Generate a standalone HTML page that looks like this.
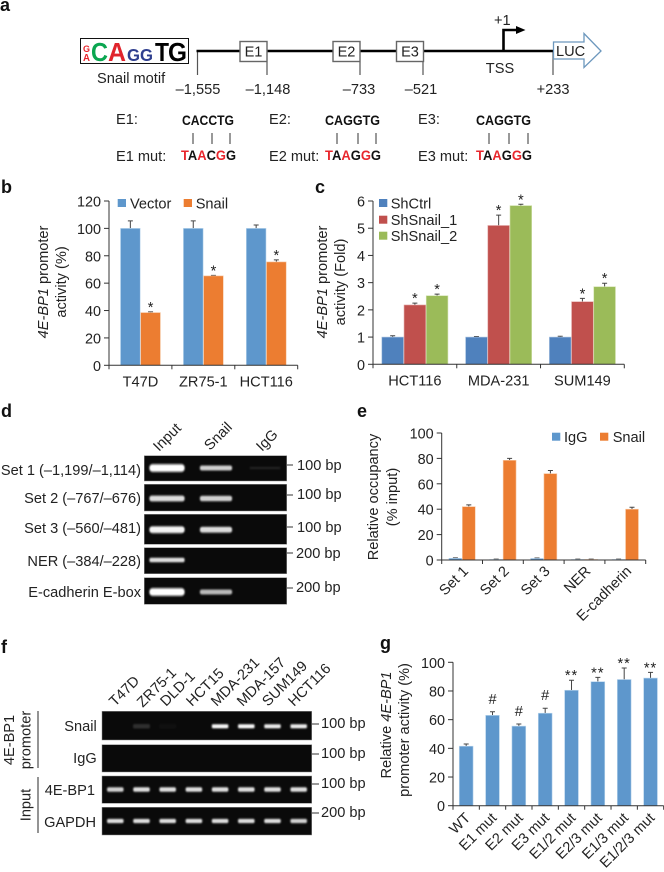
<!DOCTYPE html>
<html><head><meta charset="utf-8"><title>4E-BP1 promoter figure</title>
<style>
html,body{margin:0;padding:0;background:#fff;}
svg{display:block;}
text{font-family:"Liberation Sans",Arial,sans-serif;font-size:14.6px;fill:#222;}
.pl{font-size:18px;font-weight:bold;fill:#111;}
.seq{font-weight:bold;font-size:14px;fill:#111;}
.r{fill:#e8262c;}
.m{font-weight:bold;}
</style></head><body>
<svg id="fig" xmlns="http://www.w3.org/2000/svg" width="664" height="872" viewBox="0 0 664 872">
<defs>
<filter id="bl" x="-20%" y="-120%" width="140%" height="340%"><feGaussianBlur stdDeviation="0.8"/></filter>
<filter id="bl2" x="-20%" y="-120%" width="140%" height="340%"><feGaussianBlur stdDeviation="0.5"/></filter>
</defs>

<text class="pl" x="0" y="11">a</text>
<text class="pl" x="1" y="193">b</text>
<text class="pl" x="315" y="193">c</text>
<text class="pl" x="1" y="417">d</text>
<text class="pl" x="357" y="417">e</text>
<text class="pl" x="1" y="653">f</text>
<text class="pl" x="380" y="649">g</text>

<g>
<rect x="80.5" y="38.5" width="108" height="25" fill="#fff" stroke="#111" stroke-width="1"/>
<text x="83" y="52" font-weight="bold" style="font-size:9px;fill:#e8262c" textLength="7" lengthAdjust="spacingAndGlyphs">G</text>
<text x="83" y="61" font-weight="bold" style="font-size:10px;fill:#e8262c" textLength="7" lengthAdjust="spacingAndGlyphs">A</text>
<text x="91" y="61" font-weight="bold" style="font-size:26px;fill:#0aa650" textLength="17" lengthAdjust="spacingAndGlyphs">C</text>
<text x="108" y="61" font-weight="bold" style="font-size:26px;fill:#e0242c" textLength="18" lengthAdjust="spacingAndGlyphs">A</text>
<text x="127" y="61" font-weight="bold" style="font-size:17.5px;fill:#2f3f8f" textLength="13" lengthAdjust="spacingAndGlyphs">G</text>
<text x="140" y="61" font-weight="bold" style="font-size:17.5px;fill:#2f3f8f" textLength="13" lengthAdjust="spacingAndGlyphs">G</text>
<text x="155" y="61" font-weight="bold" style="font-size:26px;fill:#000" textLength="14" lengthAdjust="spacingAndGlyphs">T</text>
<text x="168" y="61" font-weight="bold" style="font-size:26px;fill:#000" textLength="19" lengthAdjust="spacingAndGlyphs">G</text>
<text x="97" y="83">Snail motif</text>

<g stroke="#555" stroke-width="1.2" fill="none">
<path d="M197.500 51V75M267 62V75M360 62V75M423 62V75M553 51V75"/>
</g>
<path d="M196.500 51H553" stroke="#000" stroke-width="2.6" fill="none"/>
<rect x="240" y="41.500" width="27" height="20" fill="#fff" stroke="#666" stroke-width="1.400"/>
<rect x="333" y="41.500" width="27" height="20" fill="#fff" stroke="#666" stroke-width="1.400"/>
<rect x="396.500" y="41.500" width="27" height="20" fill="#fff" stroke="#666" stroke-width="1.400"/>
<text x="253.500" y="56.500" text-anchor="middle">E1</text>
<text x="346.500" y="56.500" text-anchor="middle">E2</text>
<text x="410" y="56.500" text-anchor="middle">E3</text>
<path d="M553.500 42H584V33.500L601 51L584 67.500V59H553.500Z" fill="#fff" stroke="#6c97bd" stroke-width="1.300"/>
<text x="556" y="56">LUC</text>
<path d="M503.500 51V30H518" stroke="#000" stroke-width="2.600" fill="none"/>
<path d="M516 26L525.500 30L516 34Z" fill="#000"/>
<text x="494" y="25">+1</text>
<text x="500" y="73" text-anchor="middle">TSS</text>
<text x="198" y="94" text-anchor="middle">–1,555</text>
<text x="268" y="94" text-anchor="middle">–1,148</text>
<text x="359" y="94" text-anchor="middle">–733</text>
<text x="421" y="94" text-anchor="middle">–521</text>
<text x="553" y="94" text-anchor="middle">+233</text>
</g>

<g>
<text x="116" y="124">E1:</text>
<text class="seq" x="182" y="125" textLength="52" lengthAdjust="spacingAndGlyphs">CACCTG</text>
<path d="M193 133V144M212 133V144M230 133V144" stroke="#333" stroke-width="1"/>
<text x="116" y="161">E1 mut:</text>
<text class="seq" x="181" y="160" textLength="55" lengthAdjust="spacingAndGlyphs"><tspan class="r">T</tspan>A<tspan class="r">A</tspan>C<tspan class="r">G</tspan>G</text>

<text x="269" y="124">E2:</text>
<text class="seq" x="325" y="125" textLength="55" lengthAdjust="spacingAndGlyphs">CAGGTG</text>
<path d="M337 133V144M358 133V144M376 133V144" stroke="#333" stroke-width="1"/>
<text x="269" y="161">E2 mut:</text>
<text class="seq" x="325" y="160" textLength="56" lengthAdjust="spacingAndGlyphs"><tspan class="r">T</tspan>A<tspan class="r">A</tspan>G<tspan class="r">G</tspan>G</text>

<text x="418" y="124">E3:</text>
<text class="seq" x="476" y="125" textLength="55" lengthAdjust="spacingAndGlyphs">CAGGTG</text>
<path d="M489 133V144M509 133V144M528 133V144" stroke="#333" stroke-width="1"/>
<text x="418" y="161">E3 mut:</text>
<text class="seq" x="476" y="160" textLength="56" lengthAdjust="spacingAndGlyphs"><tspan class="r">T</tspan>A<tspan class="r">A</tspan>G<tspan class="r">G</tspan>G</text>
</g>

<g>
<text transform="translate(48 282) rotate(-90)" text-anchor="middle"><tspan font-style="italic">4E-BP1</tspan> promoter</text>
<text transform="translate(66 282) rotate(-90)" text-anchor="middle">activity (%)</text>
</g>
<g>
<text transform="translate(327 282) rotate(-90)" text-anchor="middle"><tspan font-style="italic">4E-BP1</tspan> promoter</text>
<text transform="translate(345 282) rotate(-90)" text-anchor="middle">activity (Fold)</text>
</g>
<g>
<text transform="translate(378 497) rotate(-90)" text-anchor="middle">Relative occupancy</text>
<text transform="translate(397 497) rotate(-90)" text-anchor="middle">(% input)</text>
</g>
<g>
<text transform="translate(391 725) rotate(-90)" text-anchor="middle">Relative <tspan font-style="italic">4E-BP1</tspan></text>
<text transform="translate(409 730) rotate(-90)" text-anchor="middle">promoter activity (%)</text>
</g>

<g>
<text transform="translate(159 452) rotate(-45)">Input</text>
<text transform="translate(210 451) rotate(-45)">Snail</text>
<text transform="translate(262 452) rotate(-45)">IgG</text>
<text x="141" y="475" text-anchor="end">Set 1 (–1,199/–1,114)</text>
<text x="141" y="503" text-anchor="end">Set 2 (–767/–676)</text>
<text x="141" y="533" text-anchor="end">Set 3 (–560/–481)</text>
<text x="141" y="566" text-anchor="end">NER (–384/–228)</text>
<text x="141" y="597" text-anchor="end">E-cadherin E-box</text>
<path d="M287 465H293M287 495H293M287 527H293M287 553H293M287 588H293" stroke="#333" stroke-width="1"/>
<text x="297" y="470">100 bp</text>
<text x="297" y="499">100 bp</text>
<text x="297" y="532">100 bp</text>
<text x="296" y="558">200 bp</text>
<text x="296" y="592">200 bp</text>
</g>

<g>
<text transform="translate(115 707) rotate(-45)">T47D</text>
<text transform="translate(142.700 708) rotate(-45)">ZR75-1</text>
<text transform="translate(166 707) rotate(-45)">DLD-1</text>
<text transform="translate(192 707) rotate(-45)">HCT15</text>
<text transform="translate(216.700 707) rotate(-45)">MDA-231</text>
<text transform="translate(242.700 707) rotate(-45)">MDA-157</text>
<text transform="translate(268 707) rotate(-45)">SUM149</text>
<text transform="translate(294 707) rotate(-45)">HCT116</text>
<text x="96.700" y="731" text-anchor="end">Snail</text>
<text x="96.700" y="763" text-anchor="end">IgG</text>
<text x="95" y="795" text-anchor="end">4E-BP1</text>
<text x="96" y="827" text-anchor="end">GAPDH</text>
<path d="M38 711V768M38 777V833" stroke="#666" stroke-width="1.400"/>
<text transform="translate(14 740) rotate(-90)" text-anchor="middle">4E-BP1</text>
<text transform="translate(30.700 740) rotate(-90)" text-anchor="middle">promoter</text>
<text transform="translate(30.700 805) rotate(-90)" text-anchor="middle">Input</text>
<path d="M311.700 724H319M311.700 754H319M311.700 784H319M311.700 813H319" stroke="#333" stroke-width="1"/>
<text x="321" y="728">100 bp</text>
<text x="321" y="758">100 bp</text>
<text x="321" y="788">100 bp</text>
<text x="321" y="817">200 bp</text>
</g>
</svg>

<script>
// ---- Panel b data ----
const bCats = ["T47D", "ZR75-1", "HCT116"];
const bVector = [100, 100, 100];
const bVectorErr = [5.5, 5.5, 2.5];
const bSnail = [38.5, 65.3, 75.5];
const bSnailErr = [0.5, 0.4, 1.5];
const bSnailMarks = ["*", "*", "*"];
const bTicks = [0, 20, 40, 60, 80, 100, 120];

// ---- Panel c data ----
const cCats = ["HCT116", "MDA-231", "SUM149"];
const cCtrl = [1, 1, 1];
const cCtrlErr = [0.05, 0.02, 0.03];
const cSh1 = [2.18, 5.1, 2.3];
const cSh1Err = [0.07, 0.38, 0.12];
const cSh2 = [2.52, 5.83, 2.85];
const cSh2Err = [0.06, 0.05, 0.13];
const cMarks = ["*", "*", "*"];
const cTicks = [0, 1, 2, 3, 4, 5, 6];

// ---- Panel e data ----
const eCats = ["Set 1", "Set 2", "Set 3", "NER", "E-cadherin"];
const eIgG = [1.3, 0.4, 1.2, 0.4, 0.4];
const eIgGErr = [0.4, 0.3, 0.4, 0.3, 0.3];
const eSnail = [42, 78.5, 68, 0.4, 40];
const eSnailErr = [1.4, 1.5, 2.5, 0.3, 1.5];
const eTicks = [0, 20, 40, 60, 80, 100];

// ---- Panel g data ----
const gCats = ["WT", "E1 mut", "E2 mut", "E3 mut", "E1/2 mut", "E2/3 mut", "E1/3 mut", "E1/2/3 mut"];
const gVals = [41.5, 63, 55.5, 64.5, 80.5, 86.5, 88, 89];
const gErrs = [1.5, 2.5, 1.5, 3.5, 7, 3, 8, 4];
const gMarks = ["", "#", "#", "#", "**", "**", "**", "**"];
const gTicks = [0, 20, 40, 60, 80, 100];

// ---- Gel band intensities (0 = no band) ----
const dLanes = ["Input", "Snail", "IgG"];
const dSet1 = [1, 0.8, 0.12];
const dSet2 = [0.85, 0.8, 0];
const dSet3 = [0.95, 0.85, 0];
const dNer = [0.85, 0, 0];
const dEcad = [1, 0.72, 0];
const fSnail = [0, 0.2, 0.04, 0, 0.95, 0.95, 0.9, 0.9];
const fIgG = [0, 0, 0, 0, 0, 0, 0, 0];
const fInput = [0.8, 0.85, 0.85, 0.85, 0.85, 0.85, 0.85, 0.85];
const fGapdh = [0.85, 0.85, 0.85, 0.85, 0.85, 0.85, 0.85, 0.8];

const NS = "http://www.w3.org/2000/svg";
const fig = document.getElementById("fig");

function mk(tag, parent, name, attrs) {
  const el = document.createElementNS(NS, tag);
  
  
  for (const k in attrs) el.setAttribute(k, attrs[k]);
  parent.appendChild(el);
  return el;
}
function label(parent, name, x, y, str, anchor, extra) {
  const t = mk("text", parent, name, Object.assign({x: x, y: y}, extra || {}));
  if (anchor) t.setAttribute("text-anchor", anchor);
  t.textContent = str;
  return t;
}

function barChart(c) {
  const g = mk("g", fig, c.id, {});
  const y = v => c.y0 - (v / c.max) * (c.y0 - c.y1);
  const groupW = (c.x1 - c.x0) / c.cats.length;
  const xc = i => c.x0 + groupW * (i + 0.5);
  const k = c.series.length;

  c.series.forEach((s, si) => {
    s.vals.forEach((v, i) => {
      const bx = xc(i) - c.barW * k / 2 + si * c.barW;
      const top = y(v + s.errs[i]);
      mk("path", g, c.id + "-error", {d: "M" + (bx + c.barW / 2) + " " + y(v) + "V" + top + "M" + (bx + c.barW / 2 - 2.5) + " " + top + "H" + (bx + c.barW / 2 + 2.5), stroke: "#444", "stroke-width": 1, fill: "none"});
      mk("rect", g, c.id + "-bar-" + s.name, {x: bx + 0.25, y: y(v), width: c.barW - 0.5, height: Math.max(0, c.y0 - y(v)), fill: s.color, stroke: s.edge, "stroke-width": 0.6});
      const mark = s.marks ? s.marks[i] : "";
      if (mark) {
        const t = label(g, c.id + "-sig-mark", bx + c.barW / 2, top + (mark === "#" ? -8 : c.markOff), mark, "middle");
        if (mark === "**") t.setAttribute("letter-spacing", "1");
      }
    });
  });

  mk("path", g, c.id + "-y-axis", {d: "M" + c.x0 + " " + c.y0 + "V" + c.y1, stroke: "#333", "stroke-width": 1, fill: "none"});
  mk("path", g, c.id + "-x-axis", {d: "M" + c.x0 + " " + c.y0 + "H" + c.x1, stroke: "#333", "stroke-width": 1, fill: "none"});
  c.ticks.forEach(t => {
    mk("path", g, c.id + "-y-tick", {d: "M" + (c.x0 - 5) + " " + y(t) + "H" + c.x0, stroke: "#333", "stroke-width": 1});
    label(g, c.id + "-y-tick-label", c.x0 - 8, y(t) + 5.5, String(t), "end", {style: "font-size:14.4px"});
  });
  for (let i = 0; i <= c.cats.length; i++) {
    const tx = c.x0 + groupW * i;
    mk("path", g, c.id + "-x-tick", {d: "M" + tx + " " + c.y0 + "V" + (c.y0 + 4), stroke: "#333", "stroke-width": 1});
  }
  c.cats.forEach((name, i) => {
    if (c.rotate) {
      const t = label(g, c.id + "-x-label", 0, 0, name, "end");
      t.setAttribute("transform", "translate(" + (xc(i) + c.rotDx) + " " + (c.y0 + c.rotDy) + ") rotate(-45)");
    } else {
      label(g, c.id + "-x-label", xc(i), c.y0 + 21, name, "middle");
    }
  });
  (c.legend || []).forEach(l => {
    mk("rect", g, c.id + "-legend-swatch", {x: l.x, y: l.y, width: 8.3, height: 8, fill: l.color});
    label(g, c.id + "-legend-label", l.tx, l.y + 9.5, l.text);
  });
}

const BL = "#5e97cc", BLE = "#bcd7ee", OR = "#ec7d31", ORE = "#f7c9a5";
barChart({id: "chart-b", x0: 109, x1: 297.7, y0: 365.3, y1: 201, max: 120, barW: 20.2, markOff: 0,
  cats: bCats, ticks: bTicks,
  series: [
    {name: "vector", vals: bVector, errs: bVectorErr, color: BL, edge: BLE},
    {name: "snail", vals: bSnail, errs: bSnailErr, color: OR, edge: ORE, marks: bSnailMarks}
  ],
  legend: [
    {x: 117.7, y: 199, color: BL, tx: 130, text: "Vector"},
    {x: 183.7, y: 199, color: OR, tx: 195.7, text: "Snail"}
  ]});

barChart({id: "chart-c", x0: 373, x1: 624.3, y0: 364.3, y1: 201, max: 6, barW: 22.2, markOff: 0,
  cats: cCats, ticks: cTicks,
  series: [
    {name: "shctrl", vals: cCtrl, errs: cCtrlErr, color: "#4f81bd", edge: "#a9c3e0"},
    {name: "shsnail-1", vals: cSh1, errs: cSh1Err, color: "#c0504d", edge: "#e3aaa8", marks: cMarks},
    {name: "shsnail-2", vals: cSh2, errs: cSh2Err, color: "#9bbb59", edge: "#d2e2ad", marks: cMarks}
  ],
  legend: [
    {x: 379, y: 199, color: "#4f81bd", tx: 390.7, text: "ShCtrl"},
    {x: 379, y: 215.7, color: "#c0504d", tx: 390.7, text: "ShSnail_1"},
    {x: 379, y: 231.7, color: "#9bbb59", tx: 390.7, text: "ShSnail_2"}
  ]});

barChart({id: "chart-e", x0: 441.7, x1: 645.7, y0: 560, y1: 433, max: 100, barW: 13.4, rotate: true, rotDx: 7, rotDy: 12, markOff: 0,
  cats: eCats, ticks: eTicks,
  series: [
    {name: "igg", vals: eIgG, errs: eIgGErr, color: BL, edge: BLE},
    {name: "snail", vals: eSnail, errs: eSnailErr, color: OR, edge: ORE}
  ],
  legend: [
    {x: 552, y: 432.7, color: BL, tx: 564, text: "IgG"},
    {x: 600, y: 432.7, color: OR, tx: 612.7, text: "Snail"}
  ]});

barChart({id: "chart-g", x0: 453, x1: 663.7, y0: 805.7, y1: 662.3, max: 100, barW: 14.3, rotate: true, rotDx: 5, rotDy: 13, markOff: 0,
  cats: gCats, ticks: gTicks,
  series: [{name: "activity", vals: gVals, errs: gErrs, color: BL, edge: BLE, marks: gMarks}]
});

function gelPanel(name, x, y, w, h) {
  return mk("rect", fig, name, {x: x, y: y, width: w, height: h, fill: "#0a0a0a", stroke: "#8a8a8a", "stroke-width": 0.5});
}
function band(name, x, yc, w, h, a) {
  if (a <= 0) return;
  mk("rect", fig, name + "-glow", {x: x, y: yc - h / 2 - 0.5, width: w, height: h + 1, rx: h / 2, fill: "#b0b0b0", opacity: a * 0.85, filter: "url(#bl)"});
  mk("rect", fig, name, {x: x + 1, y: yc - h * 0.36, width: w - 2, height: h * 0.72, rx: h * 0.3, fill: "#fff", opacity: a * a, filter: "url(#bl2)"});
}

// Panel d gels
const dRows = [
  {n: "set1", y: 455.7, h: 25.3, c: 468, vals: dSet1, bh: [8, 5, 2]},
  {n: "set2", y: 484.3, h: 26.7, c: 498.5, vals: dSet2, bh: [6, 5.5, 2]},
  {n: "set3", y: 514.3, h: 30, c: 529.7, vals: dSet3, bh: [7, 6, 2]},
  {n: "ner", y: 547.7, h: 26, c: 560, vals: dNer, bh: [4.5, 2, 2]},
  {n: "ecad", y: 577.7, h: 26.6, c: 592, vals: dEcad, bh: [8, 5, 2]}
];
const dBandX = [149, 199.5, 249.5];
const dBandW = [36, 33, 31];
dRows.forEach(r => {
  gelPanel("gel-d-" + r.n, 144.3, r.y, 142.4, r.h);
  dLanes.forEach((lane, i) => band("gel-d-" + r.n + "-band", dBandX[i], r.c, dBandW[i], r.bh[i], r.vals[i]));
});

// Panel f gels
const fRows = [
  {n: "snail", y: 711.3, h: 28.7, c: 726.3, vals: fSnail, bh: 4},
  {n: "igg", y: 744.7, h: 27.3, c: 758, vals: fIgG, bh: 4},
  {n: "input", y: 776, h: 27.3, c: 789.5, vals: fInput, bh: 4.5},
  {n: "gapdh", y: 807.3, h: 27.7, c: 821, vals: fGapdh, bh: 4.2}
];
fRows.forEach(r => {
  gelPanel("gel-f-" + r.n, 102, r.y, 209.7, r.h);
  r.vals.forEach((v, i) => band("gel-f-" + r.n + "-band", 115.3 + i * 26.2 - 8.7, r.c, 17.4, r.bh, v));
});
</script>
</body></html>
